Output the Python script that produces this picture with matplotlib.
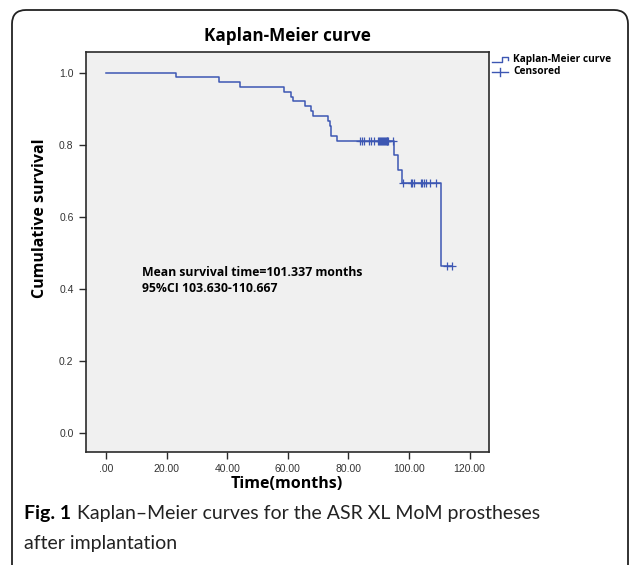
import matplotlib.pyplot as plt
import numpy as np
from matplotlib.patches import FancyBboxPatch
from matplotlib.lines import Line2D

plt.rcParams['font.family'] = ['Open Sans', 'DejaVu Sans']

# 事件时间(月)及事件后的累积生存率
event_times = [0, 23.1, 37.4, 44.1, 58.7, 61.0, 61.8, 65.8, 67.6, 68.4,
               73.2, 73.9, 74.3, 76.1, 94.9, 96.5, 97.7, 110.6]
survival = [1.0, 0.989, 0.975, 0.961, 0.948, 0.934, 0.921, 0.908, 0.894, 0.881,
            0.866, 0.853, 0.826, 0.812, 0.773, 0.731, 0.693, 0.463]
# 删失时间
censor_times = [83.9, 84.6, 85.0, 86.9, 87.3, 88.6, 89.9, 90.2, 90.5, 90.8,
                91.1, 91.4, 91.7, 92.0, 92.3, 92.6, 92.9, 93.2, 94.8,
                97.9, 100.6, 101.1, 101.7, 103.9, 104.4, 105.0, 105.5, 106.8,
                108.8, 112.5, 114.3]

xticks = [0, 20, 40, 60, 80, 100, 120]
xticklabels = ['.00', '20.00', '40.00', '60.00', '80.00', '100.00', '120.00']
yticks = [0.0, 0.2, 0.4, 0.6, 0.8, 1.0]
yticklabels = ['0.0', '0.2', '0.4', '0.6', '0.8', '1.0']

LINE = '#3d57b3'
DARK = '#2b2b2b'

fig = plt.figure(figsize=(6.34, 5.65), dpi=100)
ax = fig.add_axes([86 / 634, 1 - 452 / 565, 403 / 634, 400 / 565])
ax.set_facecolor('#f0f0f0')

# 阶梯曲线
t = np.array(event_times + [censor_times[-1]])
s = np.array(survival + [survival[-1]])
ax.step(t, s, where='post', color=LINE, lw=1.1)

# 删失标记 (+)
idx = np.searchsorted(event_times, censor_times, side='right') - 1
cs = np.array(survival)[idx]
ax.plot(censor_times, cs, ls='none', marker='+', ms=6, mew=0.9, color=LINE)

ax.set_xlim(-6.6, 126.4)
ax.set_ylim(-0.0526, 1.058)
ax.set_xticks(xticks)
ax.set_xticklabels(xticklabels)
ax.set_yticks(yticks)
ax.set_yticklabels(yticklabels)
ax.tick_params(direction='out', length=5, width=1.0, color=DARK,
               labelsize=7.5, labelcolor='#333333', pad=4)
for lab in ax.get_xticklabels() + ax.get_yticklabels():
    lab.set_family('Liberation Sans')
for sp in ax.spines.values():
    sp.set_color(DARK)
    sp.set_linewidth(1.2)

fig.text(287 / 634, 1 - 36 / 565, 'Kaplan-Meier curve', ha='center', va='center',
         fontsize=12.3, fontweight='bold')
fig.text(40 / 634, 1 - 218 / 565, 'Cumulative survival', ha='center', va='center',
         rotation=90, fontsize=11.5, fontweight='bold')
fig.text(287 / 634, 1 - 484 / 565, 'Time(months)', ha='center', va='center',
         fontsize=11.5, fontweight='bold')

ax.text(0.139, 0.43, 'Mean survival time=101.337 months\n95%CI 103.630-110.667',
        transform=ax.transAxes, ha='left', va='center', fontsize=8.8,
        fontweight='bold', linespacing=1.3)

# 图例
fig.add_artist(Line2D(np.array([492, 502, 502, 508, 508]) / 634,
                      1 - np.array([61.5, 61.5, 57, 57, 60]) / 565,
                      color=LINE, lw=1.0))
fig.add_artist(Line2D(np.array([492, 508]) / 634, 1 - np.array([72, 72]) / 565,
                      color=LINE, lw=1.0))
fig.add_artist(Line2D(np.array([500, 500]) / 634, 1 - np.array([68, 76]) / 565,
                      color=LINE, lw=1.0))
fig.text(513 / 634, 1 - 60 / 565, 'Kaplan-Meier curve', ha='left', va='center',
         fontsize=7.3, fontweight='bold')
fig.text(513 / 634, 1 - 72 / 565, 'Censored', ha='left', va='center',
         fontsize=7.3, fontweight='bold')

# 外框与图注
frame = FancyBboxPatch((12, -40), 616, 595, boxstyle='round,pad=0,rounding_size=14',
                       transform=None, fill=False, ec='#222222', lw=1.3)
fig.add_artist(frame)

cap_font = ['Lato', 'DejaVu Sans']
t1 = fig.text(24 / 634, 1 - 514 / 565, 'Fig. 1', ha='left', va='center',
              fontsize=14, fontweight='bold', family=cap_font)
fig.canvas.draw()
bb = t1.get_window_extent()
fig.text((bb.x1 + 6) / 634, 1 - 514 / 565,
         'Kaplan\u2013Meier curves for the ASR XL MoM prostheses',
         ha='left', va='center', fontsize=14, family=cap_font, color='#222222')
fig.text(24 / 634, 1 - 544 / 565, 'after implantation', ha='left', va='center',
         fontsize=14, family=cap_font, color='#222222')

plt.savefig('out.png', dpi=100)
